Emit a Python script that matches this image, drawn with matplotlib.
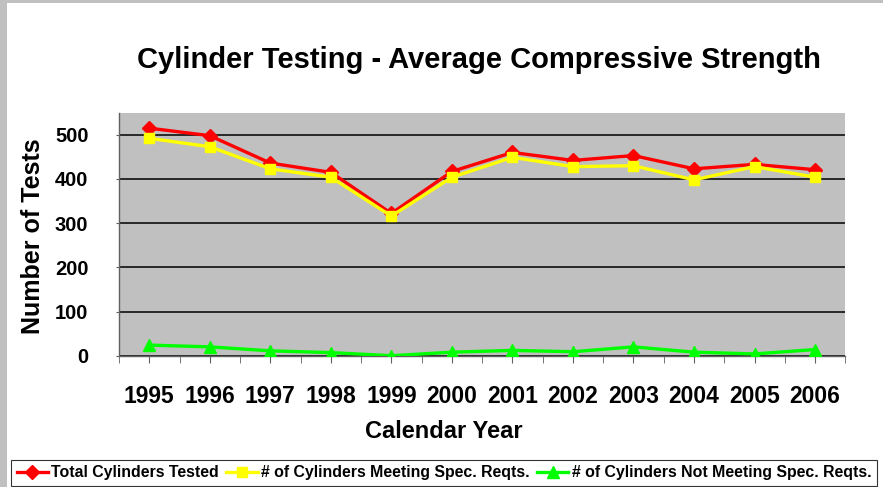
import matplotlib.pyplot as plt
import matplotlib.patches as patches
import numpy as np

# data
years = ['1995', '1996', '1997', '1998', '1999', '2000',
         '2001', '2002', '2003', '2004', '2005', '2006']
total_tested = [515, 498, 436, 415, 322, 417, 460, 442, 453, 423, 433, 421]
meeting_spec = [492, 473, 423, 404, 316, 404, 449, 428, 430, 398, 428, 404]
not_meeting = [24, 20, 11, 7, 0, 8, 12, 9, 20, 8, 4, 14]
y_ticks = [0, 100, 200, 300, 400, 500]

plt.rcParams['font.family'] = ['Liberation Sans', 'DejaVu Sans']
plt.rcParams['font.weight'] = 'bold'

W, H = 883, 487
fig = plt.figure(figsize=(W / 100, H / 100), dpi=100, facecolor='white')

# grey frame strips on the left and top of the picture
fig.add_artist(patches.Rectangle((0, 0), 7 / W, 1, transform=fig.transFigure,
                                 facecolor='#c0c0c0', edgecolor='none'))
fig.add_artist(patches.Rectangle((0, 1 - 3 / H), 1, 3 / H, transform=fig.transFigure,
                                 facecolor='#c0c0c0', edgecolor='none'))

left, right = 119 / W, 845.3 / W
top, bottom = 1 - 112.7 / H, 1 - 355.7 / H
ax = fig.add_axes([left, bottom, right - left, top - bottom])
ax.set_facecolor('#c0c0c0')

x = np.arange(len(years))
ax.plot(x, total_tested, color='#ff0000', lw=2.4, marker='D', ms=7,
        label='Total Cylinders Tested', zorder=4)
ax.plot(x, meeting_spec, color='#ffff00', lw=2.4, marker='s', ms=7.5,
        label='# of Cylinders Meeting Spec. Reqts.', zorder=5)
ax.plot(x, not_meeting, color='#00ff00', lw=2.4, marker='^', ms=8,
        label='# of Cylinders Not Meeting Spec. Reqts.', zorder=5)

ax.set_xlim(-0.5, len(years) - 0.5)
ax.set_ylim(0, 550)
ax.set_yticks(y_ticks)
ax.set_yticklabels([str(v) for v in y_ticks], fontsize=14.5, fontweight='bold')
ax.set_xticks(x)
ax.set_xticklabels(years, fontsize=16.5, fontweight='bold')
ax.set_xticks(np.arange(-0.5, len(years)), minor=True)
ax.grid(axis='y', color='black', lw=1.1)
ax.set_axisbelow(True)

for s in ['top', 'right']:
    ax.spines[s].set_visible(False)
for s in ['left', 'bottom']:
    ax.spines[s].set_color('#606060')
    ax.spines[s].set_linewidth(1.0)

ax.tick_params(axis='x', which='both', length=5, color='#606060', pad=16)
ax.tick_params(axis='y', length=2, color='#606060', pad=20)

fig.text(479 / W, 1 - 60 / H, 'Cylinder Testing - Average Compressive Strength',
         ha='center', va='center', fontsize=21, fontweight='bold')
fig.text(444 / W, 1 - 431 / H, 'Calendar Year',
         ha='center', va='center', fontsize=17, fontweight='bold')
fig.text(33 / W, 1 - 236 / H, 'Number of Tests', rotation=90,
         ha='center', va='center', fontsize=18, fontweight='bold')

leg = fig.legend(loc='lower left', bbox_to_anchor=(11 / W, 1 / H), ncol=3,
                 prop={'weight': 'bold', 'size': 11.4},
                 frameon=True, fancybox=False, edgecolor='black',
                 handlelength=2.0, handletextpad=0.2, columnspacing=0.45,
                 borderpad=0.35, borderaxespad=0)
leg.get_frame().set_linewidth(0.8)

fig.savefig('out.png', dpi=100)
